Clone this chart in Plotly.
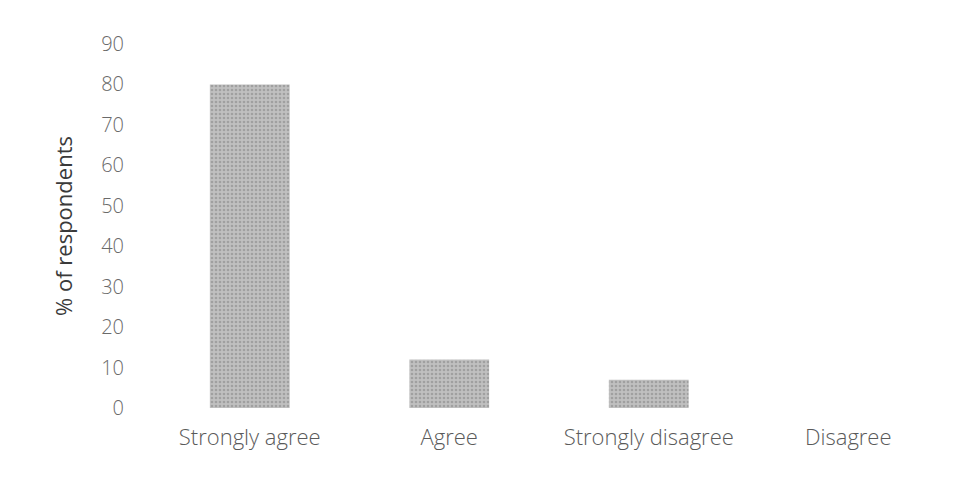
import plotly.graph_objects as go

categories = ["Strongly agree", "Agree", "Strongly disagree", "Disagree"]
values = [80, 12, 7, 0]
y_ticks = [0, 10, 20, 30, 40, 50, 60, 70, 80, 90]

fig = go.Figure()
fig.add_trace(go.Bar(
    x=categories, y=values, width=0.4,
    marker=dict(color="#b0b0b0", line=dict(width=0),
                pattern=dict(shape=".", fgcolor="#808080", bgcolor="#c0c0c0", size=4, solidity=0.35)),
))

fig.update_layout(
    width=972, height=483,
    margin=dict(l=142, r=32, t=36, b=83),
    paper_bgcolor="white", plot_bgcolor="white",
    showlegend=False,
    font=dict(family="Open Sans", color="#555555"),
    bargap=0.6,
)
fig.update_yaxes(
    range=[0, 90], tickvals=y_ticks, showgrid=False, zeroline=False, showline=False,
    tickfont=dict(size=20, color="#6a6a6a", weight=300), ticklabelstandoff=25,
    title=dict(text="% of respondents", font=dict(size=22, color="#3a3a3a"), standoff=22),
)
fig.update_xaxes(
    showgrid=False, showline=False, zeroline=False,
    tickfont=dict(size=22, color="#5a5a5a", weight=300), ticklabelstandoff=14,
)
fig.write_html("out.html")
